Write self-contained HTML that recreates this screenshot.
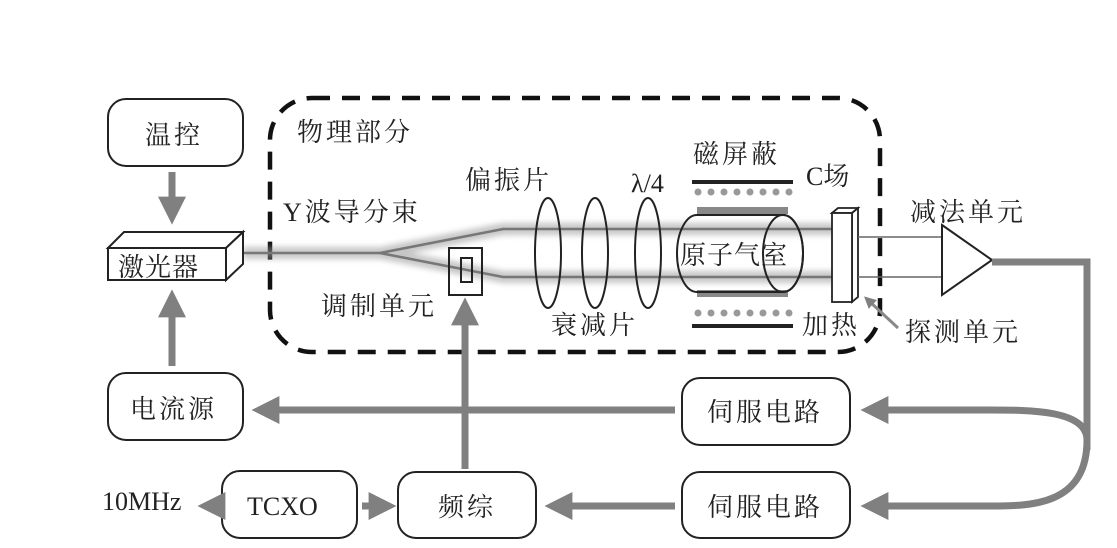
<!DOCTYPE html>
<html><head><meta charset="utf-8"><style>
html,body{margin:0;padding:0;background:#fff}
svg{display:block}
text{font-family:"Liberation Serif","Noto Serif CJK SC","Noto Sans CJK SC",serif;font-size:26px;fill:#222;letter-spacing:3px}
text.l{letter-spacing:0}
</style></head><body>
<svg width="1117" height="548" viewBox="0 0 1117 548" xmlns="http://www.w3.org/2000/svg">
<defs>
<filter id="bl" x="-10%" y="-200%" width="120%" height="500%"><feGaussianBlur stdDeviation="3"/></filter>
<marker id="ah" markerWidth="4" markerHeight="4" refX="2.2" refY="2" orient="auto" markerUnits="strokeWidth"><path d="M0,0 L4,2 L0,4 z" fill="#808080"/></marker>
</defs>
<rect x="270" y="98" width="610" height="254" rx="42" fill="none" stroke="#111" stroke-width="4.5" stroke-dasharray="18,12"/>
<text x="297" y="141">物理部分</text>

<g stroke="#999" fill="none" stroke-width="12" opacity="0.55" filter="url(#bl)">
<path d="M243,253 L380,253 L503,229 L835,229"/>
<path d="M380,253 L503,277 L835,277"/>
</g>
<g stroke="#777" fill="none" stroke-width="2.5">
<path d="M243,253 L380,253 L503,229 L835,229"/>
<path d="M380,253 L503,277 L835,277"/>
</g>

<g fill="#fff" stroke="#222" stroke-width="2">
<rect x="108" y="99" width="135" height="67" rx="18"/>
<rect x="108" y="373" width="135" height="67" rx="18"/>
<rect x="222" y="471" width="135" height="67" rx="18"/>
<rect x="398" y="472" width="138" height="66" rx="18"/>
<rect x="682" y="378" width="168" height="67" rx="18"/>
<rect x="682" y="472" width="168" height="66" rx="18"/>
</g>
<text x="145" y="144" font-size="28">温控</text>
<text x="130" y="418" font-size="28">电流源</text>
<text class="l" x="247" y="515" font-size="27">TCXO</text>
<text x="438" y="516" font-size="28">频综</text>
<text x="707" y="421" font-size="28">伺服电路</text>
<text x="707" y="516" font-size="28">伺服电路</text>
<text class="l" x="102" y="510">10MHz</text>

<g fill="#fff" stroke="#222" stroke-width="2">
<path d="M108,248 L124,232 L243,232 L226,248 z"/>
<path d="M226,248 L243,232 L243,264 L226,280 z"/>
<rect x="108" y="248" width="118" height="32"/>
</g>
<text x="118" y="276" font-size="28" style="letter-spacing:1px">激光器</text>

<rect x="449" y="248" width="33" height="47" fill="none" stroke="#222" stroke-width="2"/>
<rect x="461" y="258" width="11" height="24" fill="none" stroke="#222" stroke-width="2"/>

<g fill="none" stroke="#222" stroke-width="2">
<ellipse cx="548" cy="253" rx="13" ry="55"/>
<ellipse cx="595" cy="253" rx="13" ry="55"/>
<ellipse cx="648" cy="253" rx="13" ry="55"/>
</g>

<g fill="#222"><rect x="692" y="180" width="101" height="4"/><rect x="692" y="324" width="101" height="4"/></g>
<g fill="#888"><rect x="697" y="207" width="91" height="7"/><rect x="697" y="290" width="91" height="7"/></g>
<g fill="#999">
<circle cx="698" cy="192" r="3.5"/><circle cx="711" cy="192" r="3.5"/><circle cx="724" cy="192" r="3.5"/><circle cx="737" cy="192" r="3.5"/><circle cx="750" cy="192" r="3.5"/><circle cx="763" cy="192" r="3.5"/><circle cx="776" cy="192" r="3.5"/><circle cx="789" cy="192" r="3.5"/>
<circle cx="698" cy="313" r="3.5"/><circle cx="711" cy="313" r="3.5"/><circle cx="724" cy="313" r="3.5"/><circle cx="737" cy="313" r="3.5"/><circle cx="750" cy="313" r="3.5"/><circle cx="763" cy="313" r="3.5"/><circle cx="776" cy="313" r="3.5"/><circle cx="789" cy="313" r="3.5"/>
</g>
<path d="M697,215 L783,215 A20,38.5 0 0 1 783,292 L697,292 A20,38.5 0 0 1 697,215 z" fill="none" stroke="#222" stroke-width="2"/>
<ellipse cx="783" cy="253.5" rx="20" ry="38.5" fill="none" stroke="#222" stroke-width="2"/>
<text x="680" y="264" style="letter-spacing:1px">原子气室</text>

<g fill="#fff" stroke="#222" stroke-width="1.8">
<path d="M832,213 L838,208 L858,208 L852,213 z"/>
<path d="M852,213 L858,208 L858,297 L852,302 z"/>
<rect x="832" y="213" width="20" height="89"/>
</g>
<g stroke="#666" stroke-width="1.5"><line x1="858" y1="237" x2="942" y2="237"/><line x1="858" y1="277" x2="942" y2="277"/></g>
<path d="M942,225 L992,260 L942,295 z" fill="#fff" stroke="#222" stroke-width="2"/>

<text x="283" y="221">Y波导分束</text>
<text x="465" y="189">偏振片</text>
<text class="l" x="631" y="192">λ/4</text>
<text x="693" y="163">磁屏蔽</text>
<text class="l" x="806" y="185">C场</text>
<text x="910" y="221">减法单元</text>
<text x="321" y="315">调制单元</text>
<text x="551" y="334">衰减片</text>
<text x="802" y="334">加热</text>
<text x="905" y="341">探测单元</text>

<g stroke="#808080" stroke-width="7" fill="none">
<line x1="172" y1="172" x2="172" y2="212" marker-end="url(#ah)"/>
<line x1="172" y1="366" x2="172" y2="302" marker-end="url(#ah)"/>
<line x1="675" y1="410" x2="264" y2="410" marker-end="url(#ah)"/>
<line x1="465" y1="469" x2="465" y2="310" marker-end="url(#ah)"/>
<line x1="362" y1="506" x2="384" y2="506" marker-end="url(#ah)"/>
<line x1="219" y1="506" x2="210" y2="506" marker-end="url(#ah)"/>
<line x1="675" y1="506" x2="557" y2="506" marker-end="url(#ah)"/>
<path d="M992,262 L1087,262 L1087,450"/>
<path d="M1087,440 C1087,410 1030,410 990,410 L873,410" marker-end="url(#ah)"/>
<path d="M1087,440 C1087,506 1030,506 990,506 L873,506" marker-end="url(#ah)"/>
</g>
<line x1="898" y1="328" x2="868" y2="300" stroke="#888" stroke-width="3" marker-end="url(#ah)"/>
</svg>
</body></html>
